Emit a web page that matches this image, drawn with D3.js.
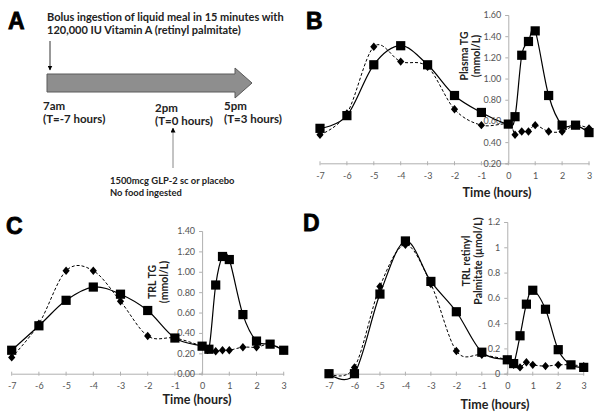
<!DOCTYPE html>
<html><head><meta charset="utf-8">
<script src="https://cdn.jsdelivr.net/npm/d3@7"></script>
<style>body{margin:0;background:#fff}svg{display:block}</style>
</head><body>
<svg id="chart" width="600" height="414"></svg>
<script>
// ---------- data ----------
const times = [-7, -6, -5, -4, -3, -2, -1, 0, 0.25, 0.5, 0.75, 1, 1.5, 2, 2.5, 3];
const xTickValues = [-7, -6, -5, -4, -3, -2, -1, 0, 1, 2, 3];

// Panel B: Plasma TG (mmol/L)
const plasmaTGSquares  = [0.53, 0.65, 1.13, 1.31, 1.13, 0.84, 0.68, 0.57, 0.64, 1.22, 1.35, 1.45, 0.84, 0.56, 0.56, 0.49];
const plasmaTGDiamonds = [0.47, 0.67, 1.30, 1.16, 1.11, 0.71, 0.56, 0.57, 0.47, 0.50, 0.50, 0.56, 0.50, 0.50, 0.56, 0.53];
const plasmaTGTicks = [0.2, 0.4, 0.6, 0.8, 1.0, 1.2, 1.4, 1.6];

// Panel C: TRL TG (mmol/L)
const trlTGSquares  = [0.23, 0.47, 0.72, 0.85, 0.78, 0.62, 0.35, 0.27, 0.24, 0.87, 1.15, 1.12, 0.58, 0.32, 0.29, 0.23];
const trlTGDiamonds = [0.16, 0.49, 1.01, 1.01, 0.71, 0.37, 0.35, 0.27, 0.24, 0.22, 0.23, 0.23, 0.26, 0.26, 0.29, 0.23];
const trlTGTicks = [0, 0.2, 0.4, 0.6, 0.8, 1.0, 1.2, 1.4];

// Panel D: TRL retinyl palmitate (µmol/L)
const trlRPSquares  = [0.00, 0.00, 0.63, 1.05, 0.73, 0.49, 0.17, 0.11, 0.08, 0.30, 0.55, 0.66, 0.51, 0.19, 0.07, 0.05];
const trlRPDiamonds = [0.00, 0.05, 0.69, 1.02, 0.71, 0.18, 0.15, 0.11, 0.07, 0.05, 0.09, 0.07, 0.06, 0.07, 0.07, 0.06];
const trlRPTicks = [0, 0.2, 0.4, 0.6, 0.8, 1.0, 1.2];

// ---------- drawing ----------
const svg = d3.select("#chart");
const FONT = "Lato, 'Open Sans', 'Liberation Sans', sans-serif";

function panel(cfg) {
  const g = svg.append("g");
  const x = d3.scaleLinear().domain([-7, 3]).range([cfg.x0, cfg.x1]);
  const y = d3.scaleLinear().domain(cfg.yDomain).range([cfg.yBottom, cfg.yTop]);

  // x axis
  const xa = g.append("g").attr("transform", `translate(0,${cfg.yBottom})`)
    .call(d3.axisBottom(x).tickValues(xTickValues).tickSize(0).tickPadding(9)
      .tickFormat(d => d < 0 ? "-" + Math.abs(d) : String(d)));
  xa.select(".domain").attr("stroke", "#b0b0b0").attr("stroke-width", 1);
  xa.selectAll("text").attr("font-family", FONT).attr("font-size", 9).attr("fill", "#555");
  g.selectAll(".xt").data(xTickValues).enter().append("line")
    .attr("x1", d => x(d)).attr("x2", d => x(d))
    .attr("y1", cfg.yBottom - 2).attr("y2", cfg.yBottom + 2)
    .attr("stroke", "#b0b0b0");

  // y axis at x = 0
  const ya = g.append("g").attr("transform", `translate(${x(0)},0)`)
    .call(d3.axisLeft(y).tickValues(cfg.yTicks).tickSize(3).tickPadding(4).tickFormat(cfg.fmt));
  ya.select(".domain").attr("stroke", "#b0b0b0");
  ya.selectAll(".tick line").attr("stroke", "#b0b0b0");
  ya.selectAll("text").attr("font-family", FONT).attr("font-size", 9).attr("fill", "#555");

  // y title (two rotated lines)
  cfg.yTitle.forEach((t, i) => {
    g.append("text")
      .attr("transform", `translate(${cfg.titleX[i]},${cfg.titleY}) rotate(-90)`)
      .attr("text-anchor", "middle").attr("font-family", FONT)
      .attr("font-weight", "bold").attr("font-size", 10.5).attr("fill", "#222")
      .text(t);
  });

  // x title
  g.append("text").attr("x", cfg.xTitleX).attr("y", cfg.xTitleY)
    .attr("text-anchor", "middle").attr("font-family", FONT)
    .attr("font-weight", "bold").attr("font-size", 12.5).attr("fill", "#222")
    .text("Time (hours)");

  const line = d3.line().x(d => x(d[0])).y(d => y(d[1])).curve(d3.curveCardinal.tension(0));
  const dia = times.map((t, i) => [t, cfg.diamonds[i]]);
  const sq = times.map((t, i) => [t, cfg.squares[i]]);

  g.append("path").attr("d", line(dia)).attr("fill", "none")
    .attr("stroke", "#000").attr("stroke-width", 1).attr("stroke-dasharray", "3,2");
  g.selectAll(".dia").data(dia).enter().append("path")
    .attr("d", "M0,-4.2L3.6,0L0,4.2L-3.6,0Z")
    .attr("transform", d => `translate(${x(d[0])},${y(d[1])})`)
    .attr("fill", "#000");

  g.append("path").attr("d", line(sq)).attr("fill", "none")
    .attr("stroke", "#000").attr("stroke-width", 1.2);
  g.selectAll(".sq").data(sq).enter().append("rect")
    .attr("x", d => x(d[0]) - 4.6).attr("y", d => y(d[1]) - 4.6)
    .attr("width", 9.2).attr("height", 9.2).attr("fill", "#000");

  // panel letter
  svg.append("text").attr("x", cfg.letterX).attr("y", cfg.letterY)
    .attr("font-family", "'Liberation Sans', Arial, sans-serif").attr("font-weight", "900")
    .attr("font-size", 23).attr("fill", "#000")
    .attr("stroke", "#000").attr("stroke-width", 0.8).text(cfg.letter);
}

const f2 = d3.format(".2f");
panel({letter: "B", letterX: 306, letterY: 29,
  x0: 320, x1: 589, yTop: 15, yBottom: 163.3, yDomain: [0.2, 1.6], yTicks: plasmaTGTicks, fmt: f2,
  yTitle: ["Plasma TG", "(mmol/L)"], titleX: [468, 480], titleY: 56,
  xTitleX: 497, xTitleY: 197,
  squares: plasmaTGSquares, diamonds: plasmaTGDiamonds});

panel({letter: "C", letterX: 6, letterY: 234,
  x0: 11.7, x1: 283.7, yTop: 231, yBottom: 373.7, yDomain: [0, 1.4], yTicks: trlTGTicks, fmt: f2,
  yTitle: ["TRL  TG", "(mmol/L)"], titleX: [156, 168], titleY: 282,
  xTitleX: 197, xTitleY: 404,
  squares: trlTGSquares, diamonds: trlTGDiamonds});

panel({letter: "D", letterX: 303, letterY: 231,
  x0: 329, x1: 583.7, yTop: 222, yBottom: 373.7, yDomain: [0, 1.2], yTicks: trlRPTicks, fmt: d => String(+d.toFixed(1)),
  yTitle: ["TRL retinyl", "Palmitate (\u00b5mol/L)"], titleX: [470, 482], titleY: 261,
  xTitleX: 495, xTitleY: 409,
  squares: trlRPSquares, diamonds: trlRPDiamonds});

// ---------- Panel A (timeline schematic) ----------
const a = svg.append("g");
a.append("text").attr("x", 8).attr("y", 29).attr("font-family", "'Liberation Sans', Arial, sans-serif")
  .attr("font-weight", "900").attr("font-size", 23).attr("stroke", "#000").attr("stroke-width", 0.8).text("A");

const tf = (x, y, s, size) => a.append("text").attr("x", x).attr("y", y)
  .attr("font-family", FONT).attr("font-weight", "bold").attr("font-size", size).attr("fill", "#222").text(s);

tf(47, 21, "Bolus ingestion of liquid meal in 15 minutes with", 11);
tf(47, 33.5, "120,000 IU Vitamin A (retinyl palmitate)", 11);

const defs = svg.append("defs");
defs.append("marker").attr("id", "ah").attr("viewBox", "0 0 10 10").attr("refX", 9).attr("refY", 5)
  .attr("markerWidth", 5).attr("markerHeight", 5).attr("orient", "auto")
  .append("path").attr("d", "M0,0L10,5L0,10Z").attr("fill", "#000");

a.append("line").attr("x1", 50).attr("y1", 41).attr("x2", 50).attr("y2", 70)
  .attr("stroke", "#333").attr("stroke-width", 1).attr("marker-end", "url(#ah)");

// big arrow
a.append("path").attr("d", "M47,74L235,74L235,68L252,83L235,98L235,92L47,92Z")
  .attr("fill", "#8e8e8e").attr("stroke", "#5a5a5a").attr("stroke-width", 1);

tf(43, 110, "7am", 11.5);
tf(43, 123, "(T=-7 hours)", 11.5);
tf(155, 112, "2pm", 11.5);
tf(155, 125, "(T=0 hours)", 11.5);
tf(224, 110, "5pm", 11.5);
tf(224, 123, "(T=3 hours)", 11.5);

a.append("line").attr("x1", 173).attr("y1", 168).attr("x2", 173).attr("y2", 128)
  .attr("stroke", "#888").attr("stroke-width", 1).attr("marker-end", "url(#ah)");

tf(110, 184, "1500mcg GLP-2 sc or placebo", 9.4);
tf(110, 195.5, "No food ingested", 9.4);
</script>
</body></html>
